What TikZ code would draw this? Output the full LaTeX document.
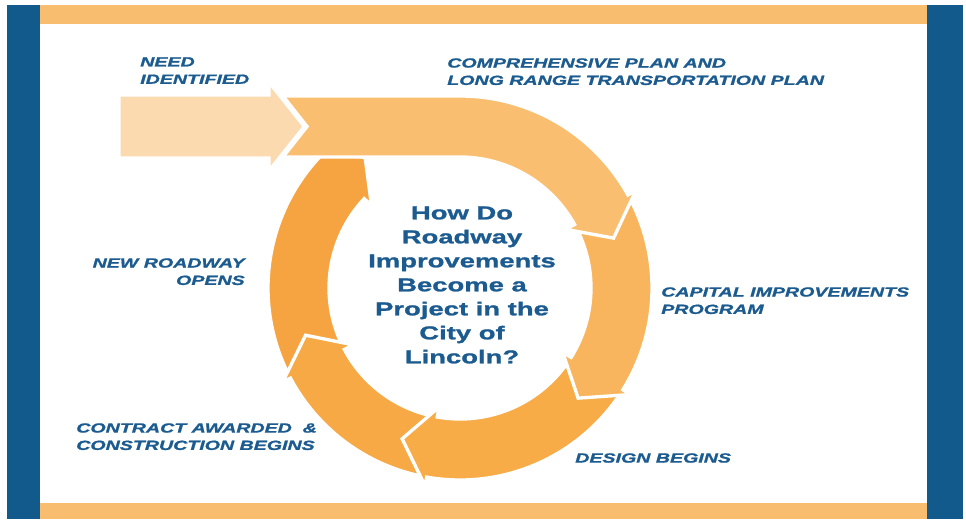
\documentclass[tikz,border=0pt]{standalone}
\usepackage{fontspec}
\setmainfont{Liberation Sans}
\newfontfamily\widesans[FakeStretch=1.47, FakeBold=1.2]{Liberation Sans}
\usetikzlibrary{positioning}

\definecolor{frameblue}{HTML}{125A8C}
\definecolor{textblue}{HTML}{1B5B8F}
\definecolor{barorange}{HTML}{F8BD6E}
\definecolor{entrypeach}{HTML}{FCDAB0}
\definecolor{stageA}{HTML}{F9BE70}
\definecolor{stageB}{HTML}{F8B55E}
\definecolor{stageC}{HTML}{F7AC48}
\definecolor{stageD}{HTML}{F6A945}
\definecolor{stageE}{HTML}{F5A441}

% one curved piece of the cycle: colour, tail angle, head base, head tip
\newcommand{\ringpiece}[4]{%
  \filldraw[piece=#1] (#2:192) arc[start angle=#2, end angle=#3, radius=192]
    -- (#3:201) -- (#4:161.5) -- (#3:121) -- (#3:131)
    arc[start angle=#3, end angle=#2, radius=131] -- cycle;}

\begin{document}
\begin{tikzpicture}
  [
    x = 0.75pt, y = 0.75pt,
    stagelabel/.style = {text=textblue, inner sep=0pt,
      font=\widesans\bfseries\itshape\fontsize{10}{13}\selectfont},
    piece/.style = {fill=#1, draw=white, line width=2.5pt},
  ]
  \useasboundingbox (0,0) rectangle (966,519);
  \fill[white] (0,0) rectangle (966,519);

  % frame
  \fill[frameblue] (7,0) rectangle (40,514);
  \fill[frameblue] (927,0) rectangle (963,514);
  \fill[barorange] (40,495) rectangle (927,514);
  \fill[barorange] (40,0) rectangle (927,16);

  \begin{scope}[shift={(460,231)}]
    \ringpiece{stageE}{-153}{-223}{-234}
    \ringpiece{stageD}{-101}{-152}{-163}
    \ringpiece{stageC}{-33}{-100}{-111}
    \ringpiece{stageB}{28}{-32}{-43}
    % top band
    \filldraw[piece=stageA] (-177,192) -- (0,192)
      arc[start angle=90, end angle=29, radius=192]
      -- (29:201) -- (18:161.5) -- (29:121) -- (29:131)
      arc[start angle=29, end angle=90, radius=131]
      -- (-177,131) -- (-153,161.5) -- cycle;
    % entry arrow
    \filldraw[fill=entrypeach, draw=white, line width=1pt]
      (-340,192) -- (-190,192) -- (-190,203) -- (-157,161.5)
      -- (-190,120) -- (-190,131) -- (-340,131) -- cycle;
  \end{scope}

  \node[stagelabel, anchor=north west, align=left] (need) at (140,462)
    {NEED\\IDENTIFIED};
  \node[stagelabel, anchor=north west, align=left] (plan) at (447,461)
    {COMPREHENSIVE PLAN AND\\LONG RANGE TRANSPORTATION PLAN};
  \node[stagelabel, anchor=north west, align=left] (cip) at (661,232)
    {CAPITAL IMPROVEMENTS\\PROGRAM};
  \node[stagelabel, anchor=north west] (design) at (575,66) {DESIGN BEGINS};
  \node[stagelabel, anchor=north west, align=left] (contract) at (76,96)
    {CONTRACT AWARDED\ \ \&\\CONSTRUCTION BEGINS};
  \node[stagelabel, anchor=north east, align=right] (opens) at (245,261)
    {NEW ROADWAY\\OPENS};

  \node[text=textblue, inner sep=0pt, align=center,
    font=\widesans\bfseries\fontsize{14}{18}\selectfont] (question) at (462,234)
    {How Do\\Roadway\\Improvements\\Become a\\Project in the\\City of\\Lincoln?};
\end{tikzpicture}
\end{document}
